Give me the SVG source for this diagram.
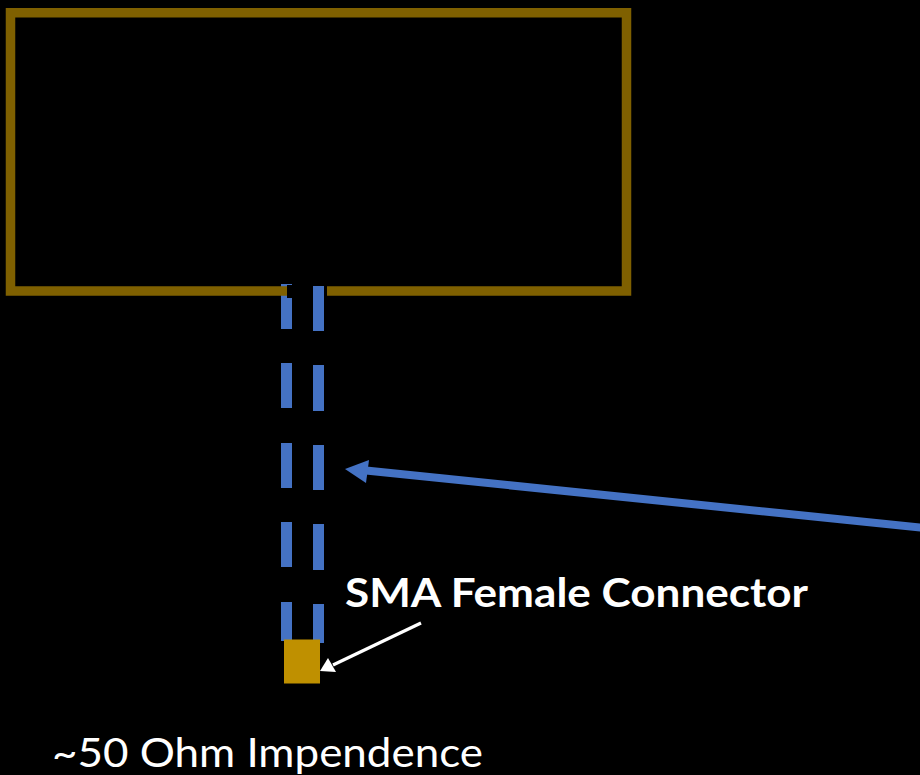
<svg xmlns="http://www.w3.org/2000/svg" width="920" height="775" viewBox="0 0 920 775">
<style>
.t{font-family:"Lato","Open Sans",sans-serif;fill:#fff;font-size:40px}
.d{fill:#4472C4}
</style>
<rect width="920" height="775" fill="#000"/>
<g id="trace-left">
<rect class="d" x="281" y="284" width="11" height="45"/>
<rect class="d" x="281" y="363" width="11" height="45"/>
<rect class="d" x="281" y="443" width="11" height="45"/>
<rect class="d" x="281" y="522" width="11" height="45"/>
<rect class="d" x="281" y="602" width="11" height="39"/>
</g>
<g id="enclosure">
<rect x="10.500" y="12.750" width="616" height="278.250" fill="none" stroke="#7F6000" stroke-width="9.500"/>
<rect x="287" y="285" width="40" height="13" fill="#000"/>
</g>
<g id="trace-right">
<rect class="d" x="313" y="286" width="11" height="45"/>
<rect class="d" x="313" y="365" width="11" height="46"/>
<rect class="d" x="313" y="445" width="11" height="45"/>
<rect class="d" x="313" y="524" width="11" height="46"/>
<rect class="d" x="313" y="604" width="11" height="39"/>
</g>
<g id="sma-connector">
<rect x="284" y="639.500" width="36" height="44" fill="#BF9000"/>
</g>
<g id="connectors">
<line x1="366" y1="470.500" x2="925" y2="528" stroke="#4472C4" stroke-width="8"/>
<polygon points="345,469 369,460 366,483" fill="#4472C4"/>
<line x1="421" y1="623" x2="333" y2="665" stroke="#fff" stroke-width="3.200"/>
<polygon points="320,671 328,658 336,672" fill="#fff"/>
</g>
<g id="labels">
<text class="t" x="345" y="607.300" font-weight="700" textLength="463" lengthAdjust="spacingAndGlyphs">SMA Female Connector</text>
<text class="t" x="52" y="766.700" textLength="431" lengthAdjust="spacingAndGlyphs">~50 Ohm Impendence</text>
</g>
</svg>
